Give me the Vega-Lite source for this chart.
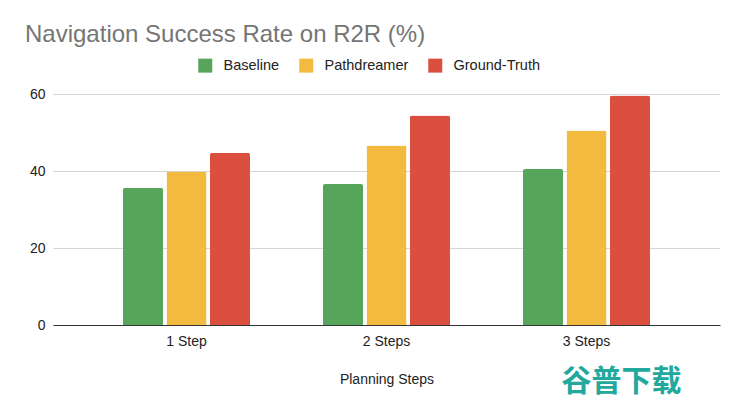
{
  "$schema": "https://vega.github.io/schema/vega-lite/v6.json",
  "width": 667,
  "height": 231,
  "autosize": {"type": "none"},
  "padding": {"left": 53, "top": 94, "right": 20, "bottom": 79},
  "background": "white",
  "title": {
    "text": "Navigation Success Rate on R2R (%)",
    "anchor": "start",
    "frame": "group",
    "fontSize": 24,
    "fontWeight": "normal",
    "font": "Liberation Sans",
    "color": "#757575",
    "dx": -28,
    "offset": 11
  },
  "config": {
    "view": {"stroke": null},
    "font": "Liberation Sans"
  },
  "data": {
    "values": [
      {"step": "1 Step", "method": "Baseline", "rate": 35.6},
      {"step": "1 Step", "method": "Pathdreamer", "rate": 39.9},
      {"step": "1 Step", "method": "Ground-Truth", "rate": 44.7},
      {"step": "2 Steps", "method": "Baseline", "rate": 36.6},
      {"step": "2 Steps", "method": "Pathdreamer", "rate": 46.6},
      {"step": "2 Steps", "method": "Ground-Truth", "rate": 54.4},
      {"step": "3 Steps", "method": "Baseline", "rate": 40.5},
      {"step": "3 Steps", "method": "Pathdreamer", "rate": 50.5},
      {"step": "3 Steps", "method": "Ground-Truth", "rate": 59.6}
    ]
  },
  "layer": [
    {
      "mark": {"type": "bar", "cornerRadiusTopLeft": 2, "cornerRadiusTopRight": 2},
      "encoding": {
        "x": {
          "field": "step",
          "type": "nominal",
          "sort": ["1 Step", "2 Steps", "3 Steps"],
          "scale": {"paddingInner": 0.365, "paddingOuter": 0.35},
          "axis": {
            "title": "Planning Steps",
            "titleFontSize": 14,
            "titleFontWeight": "normal",
            "titleColor": "#222222",
            "titlePadding": 24,
            "labelAngle": 0,
            "labelFontSize": 14,
            "labelColor": "#222222",
            "labelPadding": 9,
            "ticks": false,
            "domainColor": "#333333",
            "domainWidth": 1,
            "grid": false
          }
        },
        "xOffset": {
          "field": "method",
          "type": "nominal",
          "sort": ["Baseline", "Pathdreamer", "Ground-Truth"],
          "scale": {"paddingInner": 0.08, "paddingOuter": 0}
        },
        "y": {
          "field": "rate",
          "type": "quantitative",
          "scale": {"domain": [0, 60]},
          "axis": {
            "title": null,
            "values": [0, 20, 40, 60],
            "labelFontSize": 14,
            "labelColor": "#222222",
            "labelPadding": 8,
            "ticks": false,
            "domain": false,
            "gridColor": "#d6d6d6",
            "gridWidth": 1
          }
        },
        "color": {
          "field": "method",
          "type": "nominal",
          "sort": ["Baseline", "Pathdreamer", "Ground-Truth"],
          "scale": {
            "domain": ["Baseline", "Pathdreamer", "Ground-Truth"],
            "range": ["#57a55a", "#f2bb40", "#db4f3f"]
          },
          "legend": {
            "title": null,
            "orient": "none",
            "direction": "horizontal",
            "legendX": 145,
            "legendY": -36,
            "symbolType": "square",
            "symbolSize": 196,
            "symbolStrokeWidth": 0,
            "labelFontSize": 14.5,
            "labelColor": "#222222",
            "labelOffset": 11,
            "columnPadding": 19,
            "padding": 0
          }
        }
      }
    },
    {
      "data": {"values": [{"step": "3 Steps", "label": "谷普下载"}]},
      "mark": {
        "type": "text",
        "font": "Noto Sans CJK SC",
        "fontWeight": "bold",
        "fontSize": 30,
        "color": "#22a89c",
        "dx": 35,
        "dy": 57,
        "baseline": "middle",
        "clip": false
      },
      "encoding": {
        "x": {"field": "step", "type": "nominal"},
        "y": {"datum": 0},
        "text": {"field": "label"}
      }
    }
  ]
}
